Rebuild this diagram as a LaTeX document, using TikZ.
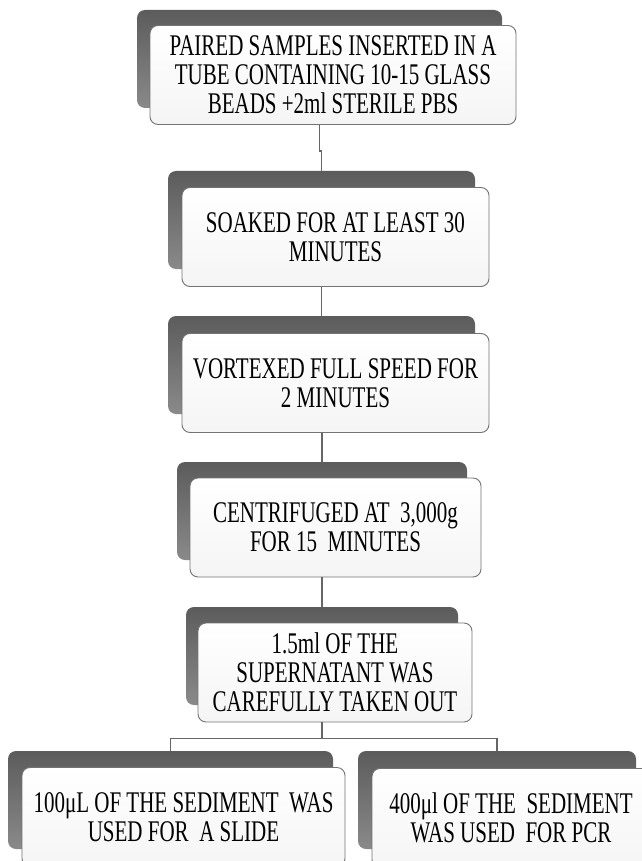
\documentclass[tikz,border=0pt]{standalone}
\usepackage{fontspec}
\setmainfont{Liberation Serif}[FakeStretch=0.7]
\begin{document}
\begin{tikzpicture}[x=1pt,y=-1pt,
  backing/.style={rounded corners=8pt, top color=black!64, bottom color=black!46, minimum width=#1pt, minimum height=98pt},
  stepcard/.style={rounded corners=8pt, top color=white, bottom color=black!4, draw=black!55, line width=0.9pt, minimum width=#1pt, minimum height=99pt, inner sep=0pt, align=center, font=\fontsize{30}{29}\selectfont},
  link/.style={draw=black!60, line width=1.2pt}]
\useasboundingbox (0,0) rectangle (641,861);
\node[backing=365] (s1) at (319.5,59) {};
\node[stepcard=366] (b1) at ([shift={(13.5,16)}]s1.center) {PAIRED SAMPLES INSERTED IN A\\TUBE CONTAINING 10-15 GLASS\\BEADS +2ml STERILE PBS};
\node[backing=307] (s2) at (321.5,220) {};
\node[stepcard=307] (b2) at ([shift={(14,17)}]s2.center) {SOAKED FOR AT LEAST 30\\MINUTES};
\node[backing=307] (s3) at (321.5,365) {};
\node[stepcard=307] (b3) at ([shift={(14,18)}]s3.center) {VORTEXED FULL SPEED FOR\\2 MINUTES};
\node[backing=290] (s4) at (322,511) {};
\node[stepcard=291] (b4) at ([shift={(13.5,16.5)}]s4.center) {CENTRIFUGED AT\ \ 3,000g\\FOR 15\ \ MINUTES};
\node[backing=272] (s5) at (322,656) {};
\node[stepcard=274] (b5) at ([shift={(13,16.5)}]s5.center) {1.5ml OF THE\\SUPERNATANT WAS\\CAREFULLY TAKEN OUT};
\node[backing=325] (s6) at (170.5,800) {};
\node[stepcard=323] (b6) at ([shift={(13,17)}]s6.center) {100μL OF THE SEDIMENT\ \ WAS\\USED FOR\ \ A SLIDE};
\node[backing=278] (s7) at (497,800) {};
\node[stepcard=278] (b7) at ([shift={(14,18)}]s7.center) {400μl OF THE\ \ SEDIMENT\\WAS USED\ \ FOR PCR};
\draw[link] (b1.south -| s1.north) -- ++(0,26) -| (s2.north);
\draw[link] (b2.south -| s2.north) -- (s3.north);
\draw[link] (b3.south -| s4.north) -- (s4.north);
\draw[link] (b4.south -| s5.north) -- (s5.north);
\path (b5.south -| s5.north) ++(0,16) coordinate (fork);
\draw[link] (b5.south -| s5.north) -- (fork) -| (s6.north);
\draw[link] (fork) -| (s7.north);
\end{tikzpicture}
\end{document}
